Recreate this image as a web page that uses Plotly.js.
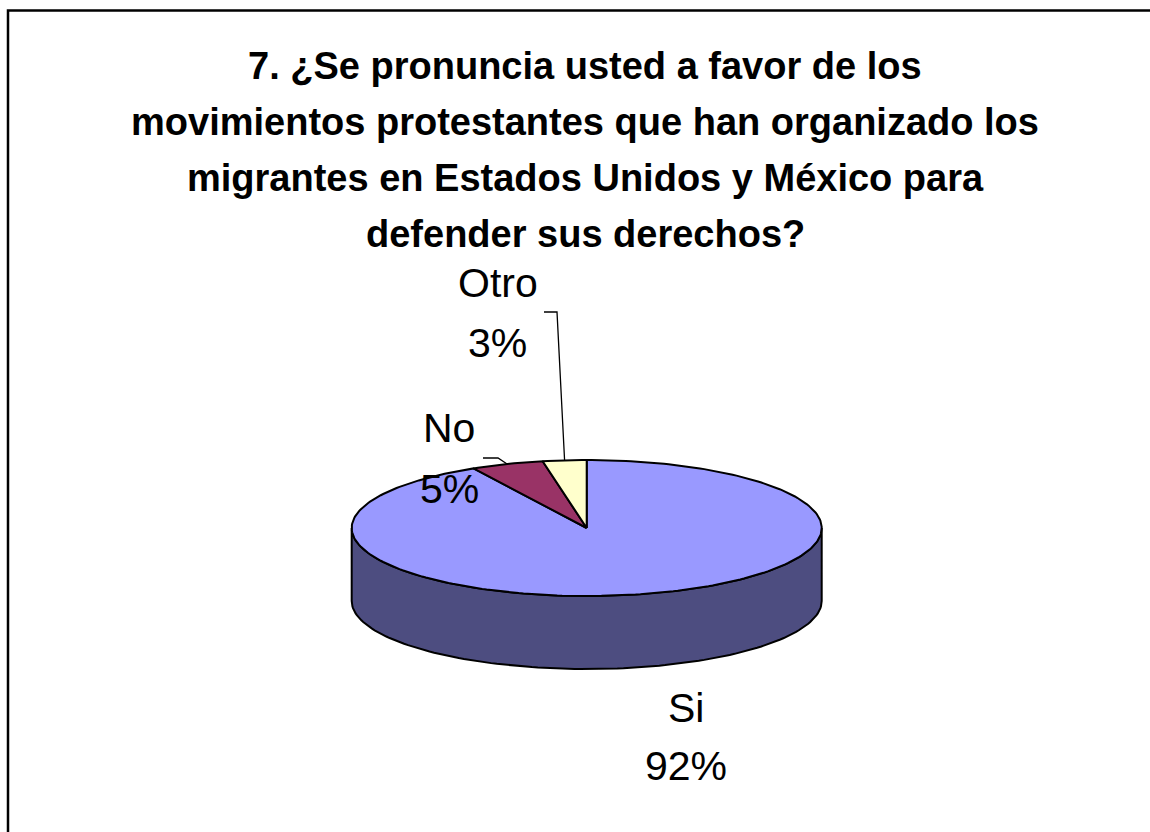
<!DOCTYPE html>
<html>
<head>
<meta charset="utf-8">
<script src="https://cdn.plot.ly/plotly-3.0.1.min.js"></script>
<style>html,body{margin:0;padding:0;background:#fff;}#chart{width:1150px;height:832px;}</style>
</head>
<body>
<div id="chart"></div>
<script>
// ---- data ----
const labels = ['Si', 'No', 'Otro'];
const values = [92, 5, 3];
const titleLines = [
  '7. ¿Se pronuncia usted a favor de los',
  'movimientos protestantes que han organizado los',
  'migrantes en Estados Unidos y México para',
  'defender sus derechos?'
];

// ---- style ----
const topColors = ['#9999FF', '#993366', '#FFFFCC'];
const sideColors = ['#4D4D80', '#4D1A33', '#808066'];
const W = 1150, H = 832;
const cx = 586.7, cy = 528, ra = 235, rb = 68, depth = 73;
const FONT = 'Liberation Sans, Arial, sans-serif';

function pt(t, dy) { return [cx + ra * Math.sin(t), cy - rb * Math.cos(t) + (dy || 0)]; }

const total = values.reduce((s, v) => s + v, 0);
const starts = [], ends = [];
let acc = 0;
values.forEach(v => { starts.push(acc / total * 2 * Math.PI); acc += v; ends.push(acc / total * 2 * Math.PI); });

const traces = [];
// side walls (front half only)
values.forEach((v, i) => {
  const s = Math.max(starts[i], Math.PI / 2), e = Math.min(ends[i], 3 * Math.PI / 2);
  if (e <= s) return;
  const xs = [], ys = [];
  const n = 120;
  for (let k = 0; k <= n; k++) { const p = pt(s + (e - s) * k / n); xs.push(p[0]); ys.push(p[1]); }
  for (let k = n; k >= 0; k--) { const p = pt(s + (e - s) * k / n, depth); xs.push(p[0]); ys.push(p[1]); }
  xs.push(xs[0]); ys.push(ys[0]);
  traces.push({ type: 'scatter', mode: 'lines', x: xs, y: ys, fill: 'toself', fillcolor: sideColors[i],
    line: { color: '#000', width: 2 }, hoverinfo: 'skip', showlegend: false });
});
// top faces
values.forEach((v, i) => {
  const xs = [cx], ys = [cy];
  const n = Math.max(8, Math.ceil(v * 3));
  for (let k = 0; k <= n; k++) { const p = pt(starts[i] + (ends[i] - starts[i]) * k / n); xs.push(p[0]); ys.push(p[1]); }
  xs.push(cx); ys.push(cy);
  traces.push({ type: 'scatter', mode: 'lines', x: xs, y: ys, fill: 'toself', fillcolor: topColors[i],
    line: { color: '#000', width: 2 }, hoverinfo: 'text', text: labels[i] + ': ' + values[i] + '%', showlegend: false });
});

// annotations
const annotations = [];
const titleY = [66, 121.5, 177.5, 233.5];
titleLines.forEach((t, i) => annotations.push({
  xref: 'x', yref: 'y', x: 585, y: titleY[i], text: '<b>' + t + '</b>', showarrow: false,
  xanchor: 'center', yanchor: 'middle', font: { family: FONT, size: 38, color: '#000' }
}));
const labelPos = [
  { x: 686, y1: 707.5, y2: 766 },
  { x: 449, y1: 428, y2: 489 },
  { x: 497.5, y1: 283, y2: 343 }
];
labels.forEach((l, i) => {
  annotations.push({ xref: 'x', yref: 'y', x: labelPos[i].x, y: labelPos[i].y1, text: l, showarrow: false,
    xanchor: 'center', yanchor: 'middle', font: { family: FONT, size: 41, color: '#000' } });
  annotations.push({ xref: 'x', yref: 'y', x: labelPos[i].x, y: labelPos[i].y2, text: values[i] + '%', showarrow: false,
    xanchor: 'center', yanchor: 'middle', font: { family: FONT, size: 41, color: '#000' } });
});

// leader lines to slice midpoints (No, Otro)
const shapes = [];
const leaderCorners = { 1: [[483, 458], [498, 458]], 2: [[544, 312], [557, 312]] };
Object.keys(leaderCorners).forEach(k => {
  const i = +k;
  const m = pt((starts[i] + ends[i]) / 2);
  const c = leaderCorners[k];
  shapes.push({ type: 'path', xref: 'x', yref: 'y',
    path: 'M' + c[0][0] + ',' + c[0][1] + ' L' + c[1][0] + ',' + c[1][1] + ' L' + m[0] + ',' + m[1],
    line: { color: '#000', width: 1.3 } });
});
// chart border
shapes.push({ type: 'rect', xref: 'x', yref: 'y', x0: 8, y0: 10.5, x1: 1200, y1: 900,
  line: { color: '#000', width: 2.5 }, fillcolor: 'rgba(0,0,0,0)' });

const layout = {
  width: W, height: H,
  margin: { l: 0, r: 0, t: 0, b: 0, pad: 0 },
  paper_bgcolor: '#fff', plot_bgcolor: '#fff',
  xaxis: { range: [0, W], visible: false, fixedrange: true },
  yaxis: { range: [H, 0], visible: false, fixedrange: true },
  annotations: annotations,
  shapes: shapes,
  showlegend: false
};
Plotly.newPlot('chart', traces, layout, { staticPlot: true, displayModeBar: false });
</script>
</body>
</html>
